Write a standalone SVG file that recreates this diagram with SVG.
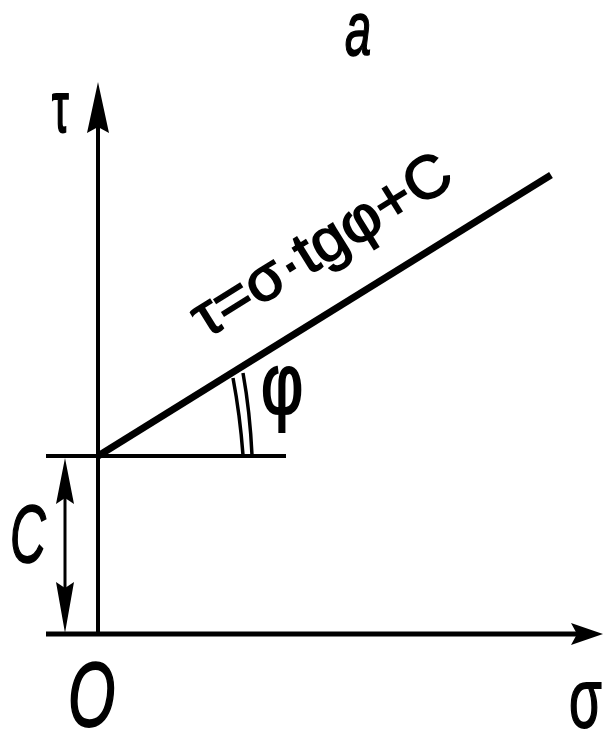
<svg xmlns="http://www.w3.org/2000/svg" width="609" height="732" viewBox="0 0 609 732">
<style>
.ln{stroke:#000;fill:none;stroke-linecap:butt}
.ah{fill:#000;stroke:none}
.t{font-family:"Liberation Sans","DejaVu Sans",sans-serif;fill:#000;stroke:#000;stroke-width:1.6}
.i{font-style:italic}
</style>
<rect width="609" height="732" fill="#fff"/>
<g id="connectors">
  <line class="ln" x1="98" y1="636" x2="98" y2="120" stroke-width="4"/>
  <polygon class="ah" points="98,82 109,133 98,127 87,133"/>
  <line class="ln" x1="46" y1="634" x2="585" y2="634" stroke-width="5"/>
  <polygon class="ah" points="603,634 571,623 577,634 571,645"/>
  <line class="ln" x1="46" y1="456" x2="286" y2="456" stroke-width="4"/>
  <line class="ln" x1="98" y1="456" x2="551" y2="175" stroke-width="7"/>
  <line class="ln" x1="65" y1="480" x2="65" y2="610" stroke-width="3"/>
  <polygon class="ah" points="65,458 74,504 65,498 56,504"/>
  <polygon class="ah" points="65,633 74,582 65,588 56,582"/>
  <path class="ln" stroke-width="3.5" d="M233,378 Q240,415 243,455 M243,373 Q250,412 252,455"/>
</g>
<g id="labels">
  <text class="t i" transform="translate(345,55) scale(0.62,1)" font-size="76">a</text>
  <text class="t" transform="translate(52,132) scale(0.75,1.3)" font-size="56">τ</text>
  <text class="t i" transform="translate(10,562) scale(0.65,1.08)" font-size="76">C</text>
  <text class="t i" transform="translate(68,726) scale(0.8,1.2)" font-size="76">O</text>
  <text class="t" transform="translate(569,727) scale(0.7,1.1)" font-size="76">σ</text>
  <text class="t" transform="translate(261,414) scale(1.05,1.4)" font-size="62">φ</text>
  <text class="t" transform="translate(206,339) rotate(-31.8)" font-size="60" textLength="295" lengthAdjust="spacingAndGlyphs">τ=σ·tgφ+C</text>
</g>
</svg>
